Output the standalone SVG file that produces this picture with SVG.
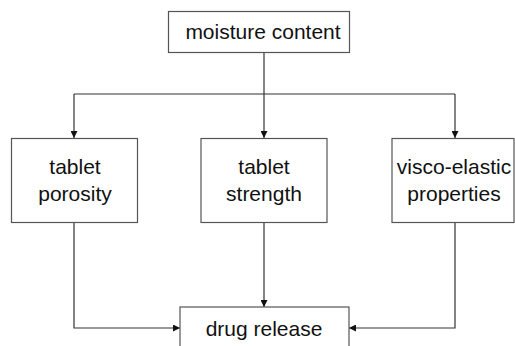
<svg xmlns="http://www.w3.org/2000/svg" width="515" height="346" viewBox="0 0 515 346">
  <style>
    .box { fill: #ffffff; stroke: #555555; stroke-width: 1.2; }
    .lbl { font-family: "Liberation Sans", Arial, sans-serif; font-size: 21px; fill: #111111; text-anchor: middle; }
    .wire { fill: none; stroke: #333333; stroke-width: 1.2; }
  </style>
  <defs>
    <marker id="head" viewBox="0 0 10 10" refX="10" refY="5" markerWidth="8" markerHeight="7" markerUnits="userSpaceOnUse" orient="auto">
      <path d="M0,0 L10,5 L0,10 Z" fill="#111111"/>
    </marker>
  </defs>
  <rect width="515" height="346" fill="#ffffff"/>

  <g id="connectors">
    <path class="wire" d="M264,52 V94"/>
    <path class="wire" d="M74,94 H455"/>
    <path class="wire" d="M74,94 V138" marker-end="url(#head)"/>
    <path class="wire" d="M264,94 V138" marker-end="url(#head)"/>
    <path class="wire" d="M455,94 V138" marker-end="url(#head)"/>
    <path class="wire" d="M74,223 V328 H180" marker-end="url(#head)"/>
    <path class="wire" d="M264,223 V307" marker-end="url(#head)"/>
    <path class="wire" d="M455,223 V328 H349" marker-end="url(#head)"/>
  </g>

  <g id="moisture-content">
    <rect class="box" x="168.5" y="11.5" width="181" height="41"/>
    <text class="lbl" x="263" y="38.5">moisture content</text>
  </g>

  <g id="tablet-porosity">
    <rect class="box" x="11.5" y="138.5" width="126" height="84"/>
    <text class="lbl" x="75" y="173.5">tablet</text>
    <text class="lbl" x="75" y="200.5">porosity</text>
  </g>

  <g id="tablet-strength">
    <rect class="box" x="201" y="138.5" width="126" height="84"/>
    <text class="lbl" x="264" y="173.5">tablet</text>
    <text class="lbl" x="264" y="200.5">strength</text>
  </g>

  <g id="visco-elastic-properties">
    <rect class="box" x="392" y="138.5" width="122" height="84"/>
    <text class="lbl" x="454" y="173.5">visco-elastic</text>
    <text class="lbl" x="454" y="200.5">properties</text>
  </g>

  <g id="drug-release">
    <rect class="box" x="180" y="307" width="169" height="45"/>
    <text class="lbl" x="264" y="335.5">drug release</text>
  </g>
</svg>
